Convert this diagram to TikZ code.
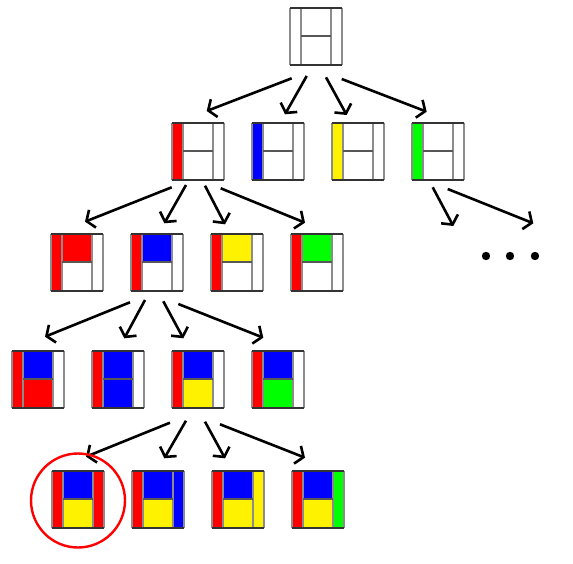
\documentclass[tikz,border=0pt]{standalone}
\usetikzlibrary{arrows.meta,calc}

\definecolor{rimgray}{HTML}{8C8C8C}
\definecolor{edgegray}{HTML}{333333}
\tikzset{
  tilebox/.style={minimum width=52pt,minimum height=57pt,inner sep=0pt,outer sep=0pt,anchor=north west},
  treearrow/.style={line width=2.6pt,-{Straight Barb[length=6.5pt,width=19pt]}},
  highlight/.style={draw=red,line width=2.4pt,circle,minimum size=94pt,inner sep=0pt},
}
% name, x, y, left, top, bottom, right
\newcommand\drawtile[7]{%
  \node[tilebox] (#1) at (#2,#3) {};
  \begin{scope}[shift={(#2,#3)}]
    \fill[#4] (0,0) rectangle (11,57);
    \fill[#5] (11,0) rectangle (41,28);
    \fill[#6] (11,28) rectangle (41,57);
    \fill[#7] (41,0) rectangle (52,57);
    \draw[rimgray,line width=1.4pt] (0,0) -- (0,57) (11,0) -- (11,57) (41,0) -- (41,57) (52,0) -- (52,57);
    \draw[edgegray!60!rimgray,line width=1.4pt] (11,28) -- (41,28);
    \draw[edgegray,line width=1.4pt] (0,0) -- (52,0) (0,57) -- (52,57);
  \end{scope}}

\begin{document}
\begin{tikzpicture}[x=1pt,y=-1pt]
\useasboundingbox (0,0) rectangle (573,564);

\drawtile{b0}{290}{8}{white}{white}{white}{white}

\drawtile{b11}{172}{123}{red}{white}{white}{white}
\drawtile{b12}{252}{123}{blue}{white}{white}{white}
\drawtile{b13}{332}{123}{yellow}{white}{white}{white}
\drawtile{b14}{412}{123}{green}{white}{white}{white}

\drawtile{b21}{51}{234}{red}{red}{white}{white}
\drawtile{b22}{131}{234}{red}{blue}{white}{white}
\drawtile{b23}{211}{234}{red}{yellow}{white}{white}
\drawtile{b24}{291}{234}{red}{green}{white}{white}

\drawtile{b31}{12}{351}{red}{blue}{red}{white}
\drawtile{b32}{92}{351}{red}{blue}{blue}{white}
\drawtile{b33}{172}{351}{red}{blue}{yellow}{white}
\drawtile{b34}{252}{351}{red}{blue}{green}{white}

\drawtile{b41}{52}{471}{red}{blue}{yellow}{red}
\drawtile{b42}{132}{471}{red}{blue}{yellow}{blue}
\drawtile{b43}{212}{471}{red}{blue}{yellow}{yellow}
\drawtile{b44}{292}{471}{red}{blue}{yellow}{green}

% parent / child / start offset / end offset
\foreach \p/\c/\sx/\sy/\ex/\ey in {
  b0/b11/1.7/13.3/34.7/-12, b0/b12/16.7/11/33/-8.7, b0/b13/36/12.3/14.7/-8, b0/b14/51.7/14/14.7/-11.3,
  b11/b21/-0.3/7.3/34/-12.3, b11/b22/14/5/33.3/-10.7, b11/b23/33/5.7/14/-9.7, b11/b24/48.7/8.3/14/-11.3,
  b22/b31/-1/11.3/33/-14.3, b22/b32/14/9/32.3/-12.7, b22/b33/32.3/10.3/11.3/-12.7, b22/b34/47.3/13/11.3/-13.3,
  b33/b41/-2/14.7/34/-14.3, b33/b42/14/12.7/32.3/-12.7, b33/b43/33/13.7/13/-12.7, b33/b44/48/16.3/13/-13.3}
  \draw[treearrow] ($(\p.south west)+(\sx,\sy)$) -- ($(\c.north west)+(\ex,\ey)$);

% open branch
\coordinate (g1) at (453.3,226);
\coordinate (g2) at (533.3,223.3);
\draw[treearrow] ($(b14.south west)+(20.7,7.3)$) -- (g1);
\draw[treearrow] ($(b14.south west)+(35.7,9)$) -- (g2);
\foreach \x in {486,510,535}
  \fill (\x,256) circle (4.2);

\node[highlight] (mark) at ($(b41.center)+(0,1)$) {};
\end{tikzpicture}
\end{document}
